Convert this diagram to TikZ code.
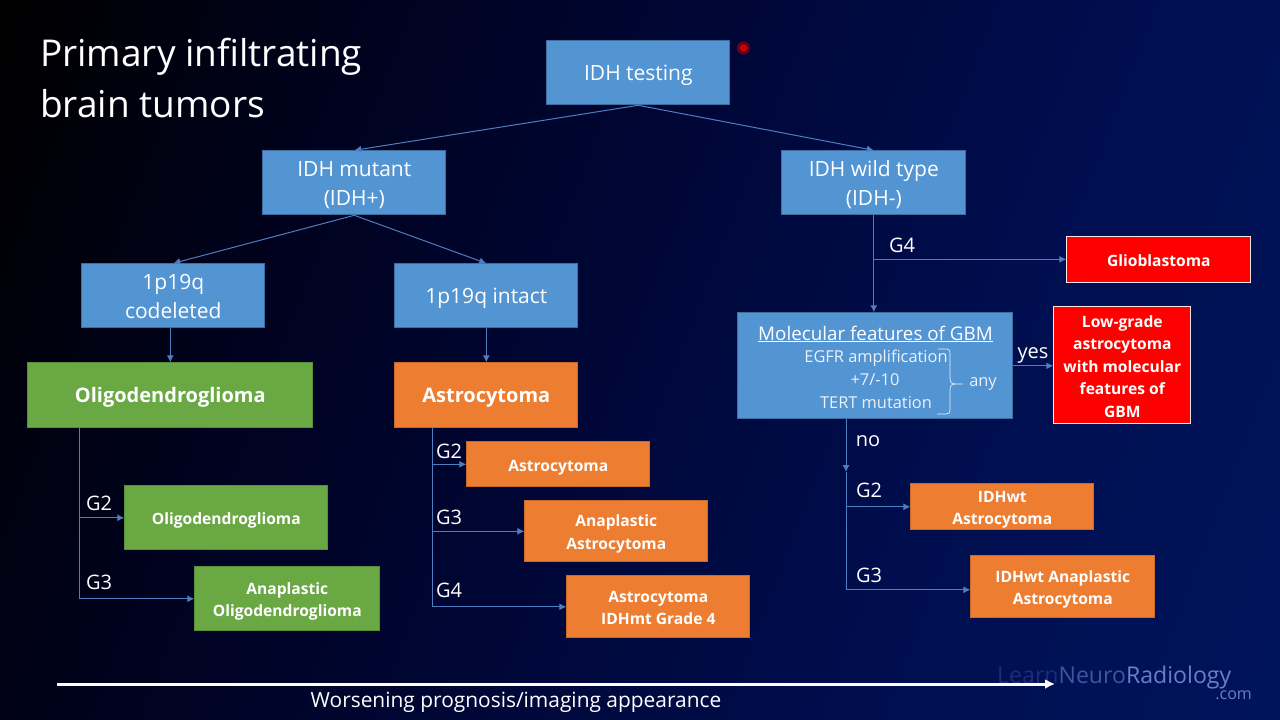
\documentclass[tikz,border=0pt]{standalone}
\usepackage{fontspec}
\setmainfont{Open Sans}
\usetikzlibrary{arrows.meta,calc}
\definecolor{bga}{RGB}{0,2,30}
\definecolor{bgb}{RGB}{0,7,57}
\definecolor{bgc}{RGB}{0,14,78}
\definecolor{bgd}{RGB}{0,20,92}
\definecolor{boxb}{RGB}{83,148,210}
\definecolor{edgeb}{RGB}{62,110,160}
\definecolor{boxg}{RGB}{106,168,68}
\definecolor{boxo}{RGB}{237,125,49}
\definecolor{wire}{RGB}{78,125,192}
\definecolor{logoa}{RGB}{32,42,125}
\definecolor{logob}{RGB}{68,82,162}
\definecolor{logoc}{RGB}{110,125,200}
\pgfdeclarehorizontalshading{slidebg}{100bp}{color(0bp)=(black); color(17.7bp)=(black); color(33.1bp)=(bga); color(49.8bp)=(bgb); color(64.4bp)=(bgc); color(82.3bp)=(bgd); color(100bp)=(bgd)}
\tikzset{
  box/.style={draw,line width=1pt,align=center,inner sep=0pt,text=white},
  bluebox/.style={box,fill=boxb,draw=edgeb,font=\fontsize{21}{29}\selectfont},
  greenhead/.style={box,fill=boxg,draw=boxg!85!black,font=\bfseries\fontsize{20}{24}\selectfont},
  orangehead/.style={box,fill=boxo,draw=boxo!85!black,font=\bfseries\fontsize{20}{24}\selectfont},
  greenbox/.style={box,fill=boxg,draw=boxg!85!black,font=\bfseries\fontsize{15.6}{22.5}\selectfont},
  orangebox/.style={box,fill=boxo,draw=boxo!85!black,font=\bfseries\fontsize{15.6}{22.5}\selectfont},
  redbox/.style={box,fill=red,draw=white!90!red,font=\bfseries\fontsize{15.6}{22.5}\selectfont},
  wirel/.style={draw=wire,line width=1pt},
  link/.style={wirel,-{Latex[length=7pt,width=7pt]}},
  tag/.style={text=white,inner sep=0pt,font=\fontsize{20}{24}\selectfont},
  small/.style={text=white!88!boxb,inner sep=0pt,font=\fontsize{16.4}{19}\selectfont},
}
\newcommand{\bx}[7]{%
  \pgfmathsetmacro{\bxw}{#5-#3}\pgfmathsetmacro{\bxh}{#6-#4}%
  \pgfmathsetmacro{\bxx}{(#3+#5)/2-0.2}\pgfmathsetmacro{\bxy}{(#4+#6)/2-0.2}%
  \node[#2,minimum width=\bxw pt,minimum height=\bxh pt] (#1) at (\bxx,\bxy) {\raisebox{-2.2pt}[\height][\depth]{\begin{tabular}{@{}c@{}}#7\end{tabular}}};}
\begin{document}
\begin{tikzpicture}[x=1pt,y=-1pt]
\useasboundingbox (0,0) rectangle (1280,720);
\shade[shading=slidebg,shading angle=-21] (0,0) rectangle (1280,720);

\node[text=white,inner sep=0pt,anchor=west,align=left,font=\fontsize{37}{51}\selectfont] (title) at (40,78.5) {Primary infiltrating\\brain tumors};

% boxes
\bx{idh}{bluebox}{547}{41}{730}{105}{IDH testing}
\bx{mut}{bluebox}{263}{151}{446}{215}{IDH mutant\\(IDH+)}
\bx{wt}{bluebox}{782}{151}{966}{215}{IDH wild type\\(IDH-)}
\bx{cod}{bluebox}{82}{264}{265}{328}{1p19q\\codeleted}
\bx{int}{bluebox}{395}{264}{578}{328}{1p19q intact}
\bx{gb}{redbox}{1067}{237}{1251}{283}{Glioblastoma}
\bx{mol}{box,fill=boxb,draw=edgeb}{738}{313}{1013}{419}{}
\bx{low}{redbox}{1054}{307}{1191}{424}{Low-grade\\astrocytoma\\with molecular\\features of\\GBM}
\bx{oligo}{greenhead}{28}{363}{313}{428}{Oligodendroglioma}
\bx{astro}{orangehead}{395}{363}{578}{428}{Astrocytoma}
\bx{og}{greenbox}{125}{486}{328}{550}{Oligodendroglioma}
\bx{ao}{greenbox}{195}{567}{380}{631}{Anaplastic\\Oligodendroglioma}
\bx{ag}{orangebox}{467}{442}{650}{487}{Astrocytoma}
\bx{aa}{orangebox}{525}{501}{708}{562}{Anaplastic\\Astrocytoma}
\bx{am}{orangebox}{567}{576}{750}{638}{Astrocytoma\\IDHmt Grade 4}
\bx{wa}{orangebox}{911}{484}{1094}{530}{IDHwt\\Astrocytoma}
\bx{wn}{orangebox}{971}{556}{1155}{618}{IDHwt Anaplastic\\Astrocytoma}

% text inside the molecular box
\node[text=white,inner sep=0pt,font=\fontsize{18.8}{23}\selectfont] (mt) at (875.5,334) {\underline{Molecular features of GBM}};
\node[small] (m1) at (876,358.5) {EGFR amplification};
\node[small] (m2) at (875,380) {+7/-10};
\node[small] (m3) at (876,403) {TERT mutation};
\node[small] (many) at (983,384) {any};
\coordinate (brt) at (938,349);
\coordinate (brb) at (937,414);
\coordinate (brm) at (963,384);
\draw[white!85!boxb,line width=.7pt] (brt) -- (947,349) .. controls (950,349) and (950,351) .. (950,354)
  -- (950,378) .. controls (950,383) and (952,384) .. (955,384) -- (brm)
  (955,384) .. controls (952,384) and (950,385) .. (950,390) -- (950,409)
  .. controls (950,413) and (949,414) .. (946,414) -- (brb);

% connectors
\draw[link] (idh.south) -- (mut.north);
\draw[link] (idh.south) -- (wt.north);
\draw[link] (mut.south) -- (cod.north);
\draw[link] (mut.south) -- (int.north);
\draw[link] (cod.south -| oligo.north) -- (oligo.north);
\draw[link] (int.south) -- (astro.north);
\draw[link] (wt.south) -- (mol.north -| wt.south);

\coordinate (wtb) at ($(wt.south)+(0,44)$);
\draw[link] (wtb) -- (wtb -| gb.west);
\draw[link] (mol.east) -- (low.west |- mol.east);

\coordinate (o0) at (79,428);
\draw[link] (o0) |- (ao.west);
\draw[link] (o0 |- og.west) -- (og.west);

\coordinate (a0) at (432,428);
\draw[link] (a0) |- (am.west);
\draw[link] (a0 |- ag.west) -- (ag.west);
\draw[link] (a0 |- aa.west) -- (aa.west);

\coordinate (n0) at (846,419);
\coordinate (n1) at (846,472);
\coordinate (n2) at ($(wn.west)+(0,3)$);
\draw[link] (n0) -- (n1);
\draw[link] (n1) |- (n2);
\draw[link] (n1 |- wa.west) -- (wa.west);

% labels
\node[tag] (l1) at (99,503) {G2};
\node[tag] (l2) at (99,582) {G3};
\node[tag] (l3) at (449,451) {G2};
\node[tag] (l4) at (449,517) {G3};
\node[tag] (l5) at (449,590) {G4};
\node[tag] (l6) at (902,245) {G4};
\node[tag] (l7) at (1033,355) {yes};
\node[tag] (l8) at (868,441) {no};
\node[tag] (l9) at (869,490) {G2};
\node[tag] (l10) at (869,575) {G3};

% pointer dot
\fill[red!70!black,opacity=.6] (743.5,48) circle (6.5);
\fill[red!90!black] (743.5,48) circle (3.5);
\fill[red!45!black] (743.5,48) circle (1.3);

% logo
\node[inner sep=0pt,anchor=west,font=\fontsize{23.1}{28}\selectfont] (logo) at (997,677) {\textcolor{logoa}{Learn}\textcolor{logob}{Neuro}\textcolor{logoc}{Radiology}};
\node[inner sep=0pt,anchor=east,text=logoc,font=\fontsize{16}{18}\selectfont] (dotcom) at (1252,695.5) {.com};

% prognosis arrow
\coordinate (ps) at (57,684);
\coordinate (pe) at (1055,684);
\draw[white,line width=3pt,-{Latex[length=10pt,width=10pt]}] (ps) -- (pe);
\node[text=white,inner sep=0pt,font=\fontsize{20.9}{24}\selectfont] (prog) at (516,702) {Worsening prognosis/imaging appearance};
\end{tikzpicture}
\end{document}
